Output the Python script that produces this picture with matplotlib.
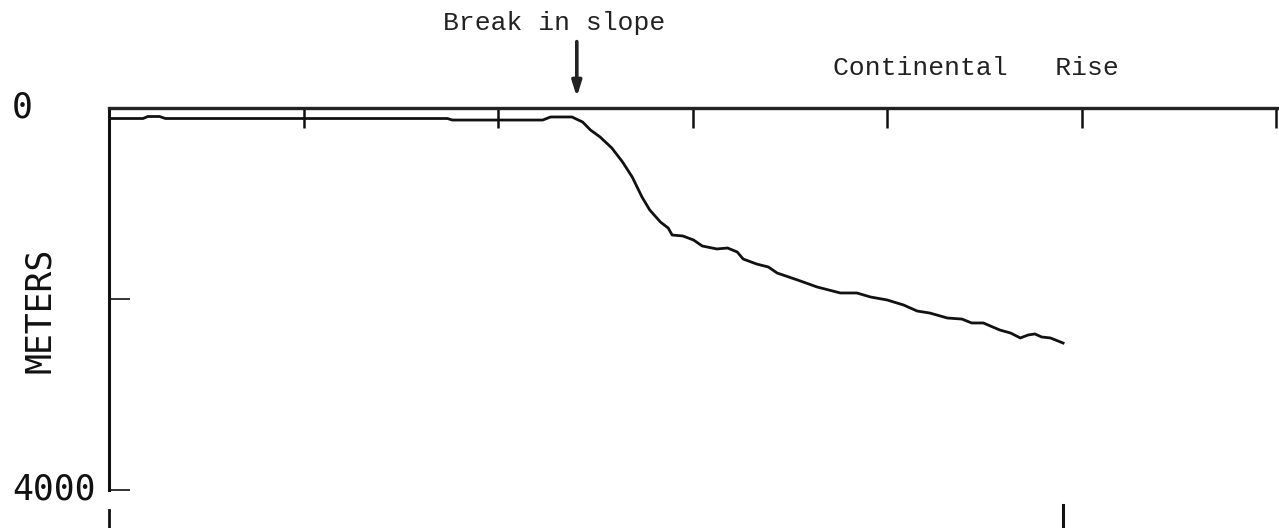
import matplotlib.pyplot as plt

# bathymetric profile across the shelf edge (distance km, depth m)
dist_km = [0.0, 3.5, 4.0, 5.2, 5.8, 19.6, 34.8, 35.3, 44.6, 45.4, 47.6, 48.7,
           49.5, 50.5, 51.7, 52.8, 53.8, 54.8, 55.6, 56.7, 57.5, 57.9, 59.0,
           60.1, 61.0, 62.5, 63.6, 64.6, 65.2, 66.6, 67.8, 68.7, 70.8, 72.8,
           75.2, 76.9, 78.3, 80.0, 81.7, 83.1, 84.4, 86.2, 87.7, 88.7, 89.9,
           91.6, 92.7, 93.7, 94.5, 95.2, 95.9, 96.8, 98.1]
depth_m = [110, 110, 89, 89, 110, 110, 110, 126, 126, 94, 94, 147,
           230, 304, 419, 565, 723, 932, 1068, 1194, 1257, 1330, 1340,
           1382, 1445, 1476, 1466, 1508, 1581, 1634, 1665, 1728, 1801, 1874,
           1937, 1937, 1979, 2010, 2063, 2126, 2147, 2199, 2210, 2251, 2251,
           2325, 2356, 2408, 2377, 2366, 2398, 2408, 2461]

x_ticks = [20, 40, 60, 80, 100, 120]
y_ticks = [2000, 4000]
break_km = 48.1
rise_end_km = 98.1

fig = plt.figure(figsize=(12.79, 5.28), dpi=100)
ax = fig.add_axes([109 / 1279, 1 - 490 / 528, 1 - 109 / 1279, (490 - 108) / 528])

ax.plot(dist_km, depth_m, color="#111111", lw=2.0, solid_joinstyle="round")

ax.set_xlim(0, 120.3)
ax.set_ylim(4000, 0)
ax.spines["bottom"].set_visible(False)
ax.spines["right"].set_visible(False)
ax.spines["top"].set_linewidth(2.4)
ax.spines["left"].set_linewidth(2.2)
ax.spines["top"].set_color("#222222")
ax.spines["left"].set_color("#111111")

ax.xaxis.set_ticks_position("top")
ax.set_xticks(x_ticks)
ax.set_xticklabels([])
ax.tick_params(axis="x", direction="in", length=14.5, width=1.8, color="#111111")
ax.set_yticks(y_ticks)
ax.set_yticklabels([])
ax.tick_params(axis="y", direction="in", length=15, width=1.2, color="#111111")

# short marks below the frame
ax.plot([0, 0], [4210, 4420], color="#111111", lw=2.0, clip_on=False)
ax.plot([rise_end_km, rise_end_km], [4160, 4420], color="#111111", lw=2.2, clip_on=False)

yt = ax.get_yaxis_transform()
digit = dict(family="DejaVu Sans Mono", fontsize=25, color="#111111")
ax.text(-0.083, 0, "0", transform=yt, ha="left", va="center", **digit)
ax.text(-0.083, 4000, "4000", transform=yt, ha="left", va="center", **digit)
ax.text(-0.059, 2115, "METERS", transform=yt, ha="center", va="center",
        rotation=90, **digit)

mono = dict(family="Liberation Mono", fontsize=19, color="#222222")
ax.text(34.3, -817, "Break in slope", ha="left", va="baseline", clip_on=False, **mono)
ax.text(74.4, -346, "Continental   Rise", ha="left", va="baseline", clip_on=False, **mono)

ax.annotate("", xy=(break_km, -115), xytext=(break_km, -695),
            arrowprops=dict(arrowstyle="-|>,head_length=0.9,head_width=0.28",
                            lw=2.6, color="#222222", shrinkA=0, shrinkB=0),
            annotation_clip=False)

fig.savefig("out.png", dpi=100)
